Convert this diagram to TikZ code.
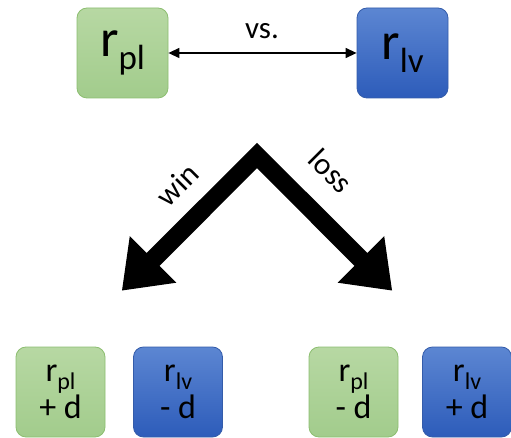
\documentclass[tikz,border=0pt]{standalone}
\usepackage{fontspec}
\setmainfont{Carlito}
\usetikzlibrary{arrows.meta}
\definecolor{gtop}{RGB}{183,216,163}
\definecolor{gbot}{RGB}{162,204,140}
\definecolor{gline}{RGB}{140,190,112}
\definecolor{btop}{RGB}{92,134,210}
\definecolor{bbot}{RGB}{45,92,186}
\definecolor{bline}{RGB}{52,92,170}
\newcommand{\rsub}[2]{r\raisebox{-0.24em}{\fontsize{#2}{#2}\selectfont #1}}
\tikzset{
  greenbox/.style={draw=gline, line width=0.8pt, rounded corners=10pt, top color=gtop, bottom color=gbot, inner sep=0pt, align=center},
  bluebox/.style={draw=bline, line width=0.8pt, rounded corners=10pt, top color=btop, bottom color=bbot, inner sep=0pt, align=center},
  bigbox/.style={minimum width=91pt, minimum height=90pt, font=\fontsize{53}{53}\selectfont},
  smallbox/.style={minimum width=89pt, minimum height=90pt, font=\fontsize{34}{42}\selectfont},
  lbl/.style={font=\fontsize{31}{31}\selectfont, inner sep=0pt}
}
\begin{document}
\begin{tikzpicture}[x=1pt,y=-1pt]
\useasboundingbox (0,0) rectangle (511,438);
% top boxes
\node[greenbox,bigbox] (gtop) at (122.5,53) {\rsub{pl}{35}};
\node[bluebox,bigbox] (btop) at (402.5,53) {\rsub{lv}{35}};
\draw[line width=1.3pt, {Triangle[length=11pt,width=10pt]}-{Triangle[length=11pt,width=10pt]}] (gtop.east) -- (btop.west);
\node[lbl] (vs) at (262,31) {vs.};
% chevron arrows
\fill[black] (257,142.8) -- (367.3,253.0) -- (384.2,236.1) -- (392,290.5) -- (337.6,282.7) -- (354.5,265.8) -- (257,168.2) -- (159.5,265.8) -- (176.4,282.7) -- (122,290.5) -- (129.8,236.1) -- (146.7,253.0) -- cycle;
\node[lbl, rotate=45] (win) at (177,185) {win};
\node[lbl, rotate=-45] (loss) at (331,171) {loss};
% bottom boxes
\node[greenbox,smallbox] (g1) at (60.5,392) {\rsub{pl}{24}\\[-5pt]+ d};
\node[bluebox,smallbox] (b1) at (178,392) {\rsub{lv}{24}\\[-5pt]- d};
\node[greenbox,smallbox] (g2) at (353.5,392) {\rsub{pl}{24}\\[-5pt]- d};
\node[bluebox,smallbox] (b2) at (467,392) {\rsub{lv}{24}\\[-5pt]+ d};
\end{tikzpicture}
\end{document}
